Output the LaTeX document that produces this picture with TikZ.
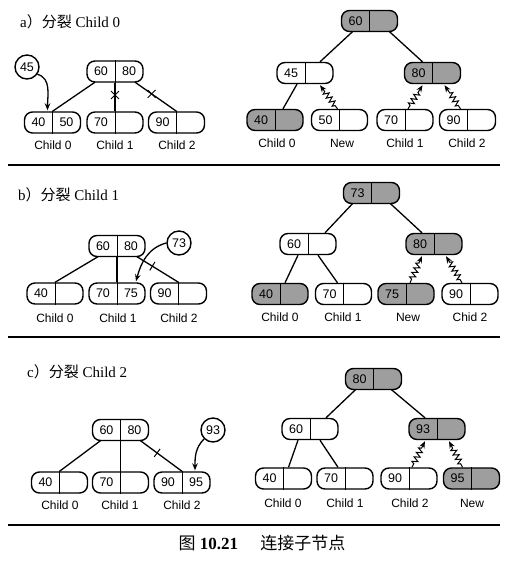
\documentclass[tikz,border=0pt]{standalone}
\usepackage{fontspec}
\setmainfont{Liberation Serif}
\newfontfamily\cjk{Noto Sans CJK SC}
\newfontfamily\hel{Liberation Sans}
\usetikzlibrary{calc,arrows.meta,decorations.pathmorphing,shapes.misc}

\tikzset{
 kb/.style={draw, line width=1.4pt, rounded corners=8pt, minimum width=56pt, minimum height=21pt, inner sep=0pt},
 wbox/.style={fill=white},
 gbox/.style={fill=black!38},
 num/.style={font=\hel\fontsize{12.5}{12.5}\selectfont, inner sep=0pt},
 lab/.style={font=\hel\fontsize{12}{12}\selectfont, inner sep=0pt},
 circ/.style={draw, circle, line width=1.4pt, minimum size=24pt, inner sep=0pt, font=\hel\fontsize{12.5}{12.5}\selectfont, fill=white},
 edge/.style={line width=1.3pt},
 arr/.style={line width=1.3pt, -{Stealth[length=7pt,width=5.5pt]}},
 wav/.style={line width=1pt, decorate, decoration={zigzag, segment length=5pt, amplitude=2.8pt, pre length=4pt, post length=7pt}, -{Stealth[length=7pt,width=5.5pt]}},
 xmk/.style={draw, cross out, line width=0.9pt, minimum size=7pt, inner sep=0pt},
 tk/.style={sloped, draw, line width=0.9pt, minimum height=9pt, minimum width=0.1pt, inner sep=0pt},
 sep/.style={line width=1.6pt},
 ttl/.style={anchor=west, inner sep=0pt, font=\fontsize{15}{15}\selectfont},
}

\newcommand\kbx[6]{%
  \node[kb,#6] (#1) at (#2,#3) {};
  \draw[line width=0.8pt] (#1.north) -- (#1.south);
  \node[num] (#1l) at ($(#1.center)+(-14,0)$) {#4};
  \node[num] (#1r) at ($(#1.center)+(14,0)$) {#5};
}

\begin{document}
\begin{tikzpicture}[x=1pt,y=1pt]
\useasboundingbox (0,0) rectangle (523,-570);
\fill[white] (0,0) rectangle (523,-570);

% ---------------- panel a ----------------
\node[ttl] (ta) at (20,-22) {a{\cjk ）分裂} Child 0};

\kbx{rA}{115}{-71.5}{60}{80}{wbox}
\kbx{a0}{52.5}{-122.5}{40}{50}{wbox}
\kbx{a1}{115}{-122.5}{70}{}{wbox}
\kbx{a2}{176.5}{-122.5}{90}{}{wbox}
\node[lab] (la0) at (53,-145) {Child 0};
\node[lab] (la1) at (115,-145) {Child 1};
\node[lab] (la2) at (177,-145) {Child 2};
\draw[edge] ($(rA.south)+(-20,0.5)$) -- (a0.north);
\draw[edge] (rA.south) -- node[xmk, pos=0.43] (xa1) {} (a1.north);
\draw[edge] ($(rA.south)+(20,0.5)$) -- node[xmk, pos=0.4] (xa2) {} (a2.north);
\node[circ] (c45) at (27,-67) {45};
\draw[arr] (c45.-35) to[out=-15, in=90] ($(a0.north)+(-5,1)$);

\kbx{rA2}{369.5}{-21}{60}{}{gbox}
\kbx{n45}{305}{-73}{45}{}{wbox}
\kbx{n80}{432.5}{-73}{80}{}{gbox}
\kbx{b40}{275}{-120}{40}{}{gbox}
\kbx{b50}{339.5}{-120}{50}{}{wbox}
\kbx{b70}{405}{-120}{70}{}{wbox}
\kbx{b90}{467.5}{-120}{90}{}{wbox}
\node[lab] (lb40) at (277,-143) {Child 0};
\node[lab] (lb50) at (342,-143) {New};
\node[lab] (lb70) at (405,-143) {Child 1};
\node[lab] (lb90) at (467,-143) {Child 2};
\draw[edge] ($(rA2.south)+(-17,0.5)$) -- ($(n45.north)+(15,0)$);
\draw[edge] ($(rA2.south)+(20,0.5)$) -- ($(n80.north)+(-10,0)$);
\draw[edge] ($(n45.south)+(-8,0)$) -- ($(b40.north)+(8,0)$);
\draw[wav] ($(b50.north)+(-2,0)$) -- ($(n45.south)+(15,-1)$);
\draw[wav] ($(b70.north)+(3,0)$) -- ($(n80.south)+(-10,-1)$);
\draw[wav] ($(b90.north)+(-7,0)$) -- ($(n80.south)+(12,-1)$);

\coordinate (s1l) at (8,-165);
\coordinate (s1r) at (500,-165);
\draw[sep] (s1l) -- (s1r);

% ---------------- panel b ----------------
\node[ttl] (tb) at (18,-195) {b{\cjk ）分裂} Child 1};

\kbx{rB}{117}{-246}{60}{80}{wbox}
\kbx{bc0}{55}{-293.5}{40}{}{wbox}
\kbx{bc1}{117}{-293.5}{70}{75}{wbox}
\kbx{bc2}{178.5}{-293.5}{90}{}{wbox}
\node[lab] (lbc0) at (55,-318) {Child 0};
\node[lab] (lbc1) at (118,-318) {Child 1};
\node[lab] (lbc2) at (179,-318) {Child 2};
\draw[edge] ($(rB.south)+(-19,0.5)$) -- (bc0.north);
\draw[edge] (rB.south) -- (bc1.north);
\draw[edge] ($(rB.south)+(20,0.5)$) -- node[tk, pos=0.37] (xb2) {} (bc2.north);
\node[circ] (c73) at (179,-243) {73};
\draw[arr] (c73.west) to[out=195, in=75] ($(bc1.north)+(19,1)$);

\kbx{rB2}{371.5}{-193}{73}{}{gbox}
\kbx{m60}{308}{-244}{60}{}{wbox}
\kbx{m80}{434}{-244}{80}{}{gbox}
\kbx{q40}{280}{-294}{40}{}{gbox}
\kbx{q70}{343.5}{-294}{70}{}{wbox}
\kbx{q75}{406}{-294}{75}{}{gbox}
\kbx{q90}{470}{-294}{90}{}{wbox}
\node[lab] (lq40) at (280,-317) {Child 0};
\node[lab] (lq70) at (343,-317) {Child 1};
\node[lab] (lq75) at (408,-317) {New};
\node[lab] (lq90) at (470,-317) {Chid 2};
\draw[edge] ($(rB2.south)+(-19,0.5)$) -- ($(m60.north)+(17,0)$);
\draw[edge] ($(rB2.south)+(19,0.5)$) -- ($(m80.north)+(-12,0)$);
\draw[edge] ($(m60.south)+(-10,0)$) -- ($(q40.north)+(5,0)$);
\draw[edge] ($(m60.south)+(10,0)$) -- ($(q70.north)+(-6,0)$);
\draw[wav] ($(q75.north)+(4,0)$) -- ($(m80.south)+(-12,-1)$);
\draw[wav] ($(q90.north)+(-8,0)$) -- ($(m80.south)+(12,-1)$);

\coordinate (s2l) at (8,-337);
\coordinate (s2r) at (500,-337);
\draw[sep] (s2l) -- (s2r);

% ---------------- panel c ----------------
\node[ttl] (tc) at (27,-372) {c{\cjk ）分裂} Child 2};

\kbx{rC}{120.5}{-430}{60}{80}{wbox}
\kbx{cc0}{59.5}{-482.5}{40}{}{wbox}
\kbx{cc1}{120.5}{-482.5}{70}{}{wbox}
\kbx{cc2}{182}{-482.5}{90}{95}{wbox}
\node[lab] (lcc0) at (60,-505) {Child 0};
\node[lab] (lcc1) at (120,-505) {Child 1};
\node[lab] (lcc2) at (182,-505) {Child 2};
\draw[edge] ($(rC.south)+(-20,0.5)$) -- (cc0.north);
\draw[edge] (rC.south) -- (cc1.north);
\draw[edge] ($(rC.south)+(20,0.5)$) -- node[tk, pos=0.4] (xc2) {} (cc2.north);
\node[circ] (c93) at (213,-430) {93};
\draw[arr] (c93.225) to[out=225, in=90] ($(cc2.north)+(13,1)$);

\kbx{rC2}{373.5}{-379}{80}{}{gbox}
\kbx{p60}{310}{-429}{60}{}{wbox}
\kbx{p93}{437}{-429}{93}{}{gbox}
\kbx{s40}{283.5}{-478.5}{40}{}{wbox}
\kbx{s70}{345}{-478.5}{70}{}{wbox}
\kbx{s90}{409}{-478.5}{90}{}{wbox}
\kbx{s95}{471.5}{-478.5}{95}{}{gbox}
\node[lab] (ls40) at (283,-503) {Child 0};
\node[lab] (ls70) at (345,-503) {Child 1};
\node[lab] (ls90) at (410,-503) {Child 2};
\node[lab] (ls95) at (472,-503) {New};
\draw[edge] ($(rC2.south)+(-18,0.5)$) -- ($(p60.north)+(16,0)$);
\draw[edge] ($(rC2.south)+(18,0.5)$) -- ($(p93.north)+(-12,0)$);
\draw[edge] ($(p60.south)+(-12,0)$) -- ($(s40.north)+(5,0)$);
\draw[edge] ($(p60.south)+(10,0)$) -- ($(s70.north)+(-7,0)$);
\draw[wav] ($(s90.north)+(3,0)$) -- ($(p93.south)+(-12,-1)$);
\draw[wav] ($(s95.north)+(-9,0)$) -- ($(p93.south)+(12,-1)$);

\coordinate (s3l) at (8,-525);
\coordinate (s3r) at (500,-525);
\draw[sep] (s3l) -- (s3r);

% caption
\node[inner sep=0pt, font=\fontsize{17}{17}\selectfont] (cap) at (262,-543) {{\cjk 图} \textbf{10.21}\hspace{1.3em}{\cjk 连接子节点}};
\end{tikzpicture}
\end{document}
